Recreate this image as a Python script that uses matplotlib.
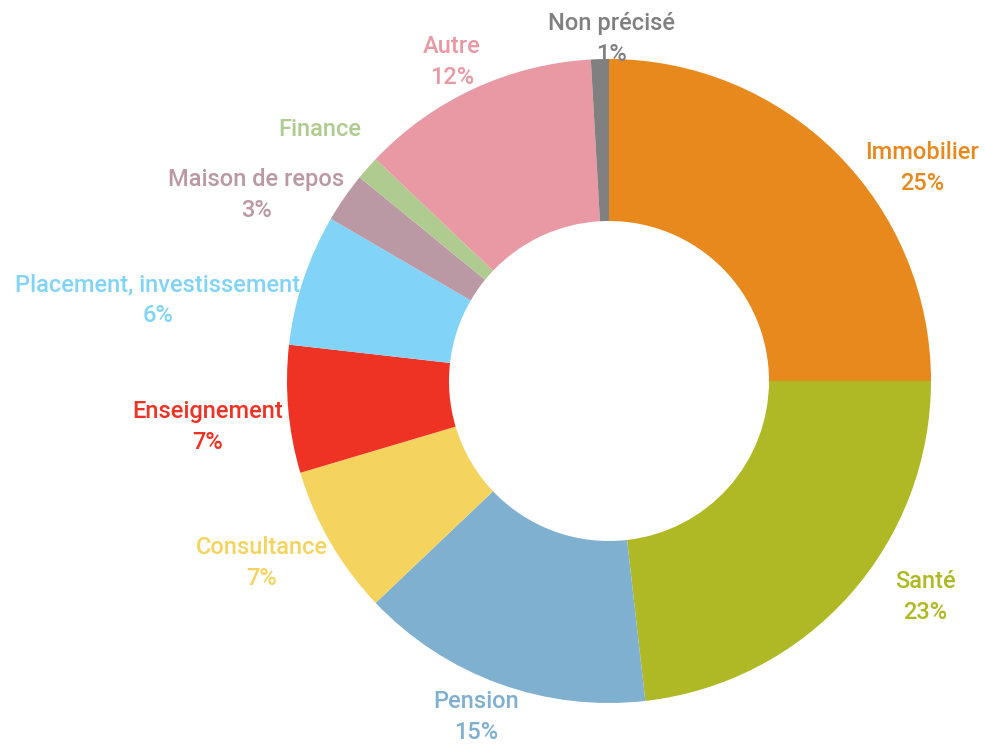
import numpy as np
import matplotlib.pyplot as plt

# donnees
labels = ['Immobilier', 'Santé', 'Pension', 'Consultance', 'Enseignement',
          'Placement, investissement', 'Maison de repos', 'Finance', 'Autre', 'Non précisé']
values = [25.0, 23.2, 14.7, 7.5, 6.4, 6.6, 2.5, 1.2, 12.0, 0.9]
pct_text = ['25%', '23%', '15%', '7%', '7%', '6%', '3%', '', '12%', '1%']
colors = ['#E8891E', '#AFB925', '#7FB0CF', '#F4D35E', '#EE3224',
          '#81D3F7', '#BA98A4', '#AFCB8F', '#E899A4', '#808080']

# position des etiquettes (pixels, origine en haut a gauche)
label_pos = [(922, 168), (925, 597), (476, 717), (262, 563), (208, 427),
             (158, 300), (256, 195), (320, 130), (452, 62), (612, 39)]

W, H = 985, 746
fig = plt.figure(figsize=(W / 100, H / 100), dpi=100)
ax = fig.add_axes([0, 0, 1, 1])

ax.pie(values, colors=colors, startangle=90, counterclock=False,
       center=(609, H - 381), radius=322,
       wedgeprops=dict(width=162, linewidth=0), frame=True)
ax.set_xlim(0, W)
ax.set_ylim(0, H)
ax.axis('off')

for lab, p, c, (x, y) in zip(labels, pct_text, colors, label_pos):
    txt = lab if p == '' else lab + '\n' + p
    ax.text(x, H - y, txt, color=c, ha='center', va='center',
            fontsize=17, fontfamily='Roboto', fontweight='medium',
            linespacing=1.45)

plt.savefig('out.png', dpi=100)
